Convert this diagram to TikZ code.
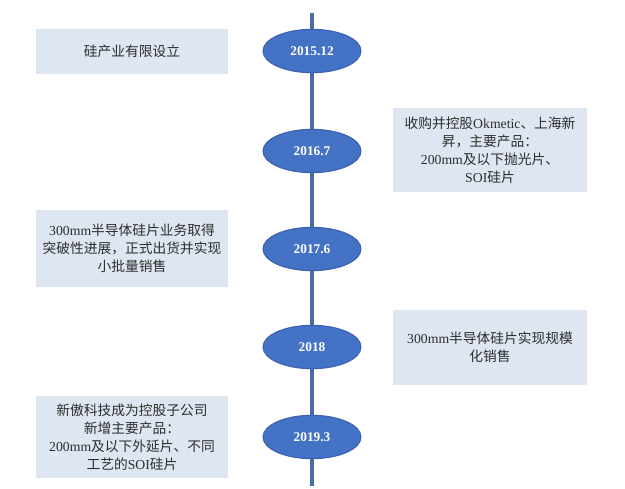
\documentclass[tikz,border=0pt]{standalone}
\usepackage{fontspec}
\setmainfont{Noto Sans CJK SC}
\newfontfamily\lat{Liberation Serif}
\usetikzlibrary{shapes.geometric}
\definecolor{lineblue}{HTML}{4A6DA7}
\definecolor{ellfill}{HTML}{4472C4}
\definecolor{elldraw}{HTML}{3A62AC}
\definecolor{boxfill}{HTML}{DDE6F1}
\definecolor{txt}{HTML}{2E2E2E}
\begin{document}
\begin{tikzpicture}[x=0.75pt,y=-0.75pt,
  year/.style={ellipse, fill=ellfill, draw=elldraw, line width=0.8pt,
    minimum width=73.5pt, minimum height=32.5pt, inner sep=0pt,
    text=white, font=\lat\bfseries\fontsize{10}{12}\selectfont},
  infobox/.style={fill=boxfill, text=txt, align=center, inner sep=0pt,
    font=\fontsize{10.3}{13.6}\selectfont},
  leftbox/.style={infobox, minimum width=144pt},
  rightbox/.style={infobox, minimum width=145.5pt},
  spine/.style={draw=lineblue, line width=3pt}]
\fill[white] (0,0) rectangle (625,489);
\path[use as bounding box] (0,0) rectangle (625,489);

\coordinate (top) at (312,13);
\coordinate (bot) at (312,486);

\node[year] (y1) at (312,51) {2015.12};
\node[year] (y2) at (312,151) {2016.7};
\node[year] (y3) at (312,249) {2017.6};
\node[year] (y4) at (312,347) {2018};
\node[year] (y5) at (312,437) {2019.3};

\draw[spine] (top) -- (y1);
\draw[spine] (y1) -- (y2);
\draw[spine] (y2) -- (y3);
\draw[spine] (y3) -- (y4);
\draw[spine] (y4) -- (y5);
\draw[spine] (y5) -- (bot);

\node[leftbox, minimum height=33.75pt] (b1) at (132,51.5) {硅产业有限设立};
\node[rightbox, minimum height=63pt] (b2) at (490,150)
  {收购并控股{\lat Okmetic}、上海新\\昇，主要产品：\\{\lat 200mm}及以下抛光片、\\{\lat SOI}硅片};
\node[leftbox, minimum height=57.75pt] (b3) at (132,248.5)
  {{\lat 300mm}半导体硅片业务取得\\突破性进展，正式出货并实现\\小批量销售};
\node[rightbox, minimum height=56.25pt] (b4) at (490,347.5)
  {{\lat 300mm}半导体硅片实现规模\\化销售};
\node[leftbox, minimum height=61.5pt] (b5) at (132,437)
  {新傲科技成为控股子公司\\新增主要产品：\\{\lat 200mm}及以下外延片、不同\\工艺的{\lat SOI}硅片};
\end{tikzpicture}
\end{document}
